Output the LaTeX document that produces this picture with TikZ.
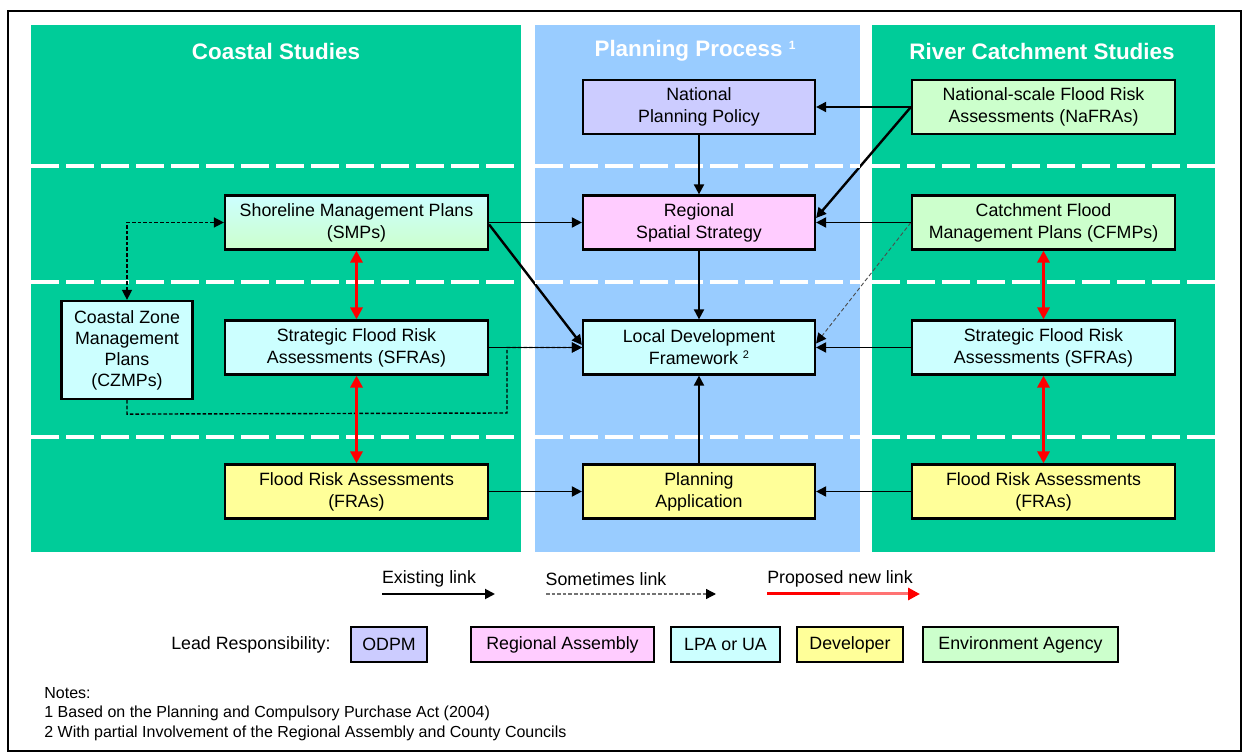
\documentclass[tikz,border=0pt]{standalone}
\usepackage{fontspec}
\setmainfont{Liberation Sans}
\usetikzlibrary{arrows.meta,calc}
\definecolor{panelgreen}{HTML}{00CC99}
\definecolor{panelblue}{HTML}{99CCFF}
\definecolor{odpmc}{HTML}{CCCCFF}
\definecolor{rac}{HTML}{FFCCFF}
\definecolor{lpac}{HTML}{CCFFFF}
\definecolor{devc}{HTML}{FFFF99}
\definecolor{eac}{HTML}{CCFFCC}
\begin{document}
\begin{tikzpicture}[x=0.5pt,y=-0.5pt,
  box/.style={draw=black, line width=1.1pt, inner sep=0pt, align=center,
    font=\fontsize{8.9}{11}\selectfont},
  sidebox/.style={box, minimum width=131.5pt, minimum height=27pt},
  midbox/.style={box, minimum width=116pt, minimum height=27pt},
  keybox/.style={box, minimum height=17.5pt},
  paneltitle/.style={text=white, font=\fontsize{11.2}{13}\selectfont\bfseries},
  rowsep/.style={white, line width=2pt, dash pattern=on 14pt off 3.5pt},
  link/.style={line width=0.95pt, -{Triangle[length=5pt,width=5pt]}},
  difflink/.style={line width=1.2pt, -{Triangle[length=5pt,width=5pt]}},
  maybelink/.style={line width=0.7pt, dash pattern=on 1.8pt off 1pt},
  faintlink/.style={line width=0.45pt, black!70, dash pattern=on 2pt off 1.2pt,
    -{Triangle[length=5pt,width=5pt,color=black]}},
  newlink/.style={red, line width=1.6pt, {Triangle[length=6pt,width=6pt]}-{Triangle[length=6pt,width=6pt]}},
  txt/.style={inner sep=0pt, font=\fontsize{8.9}{11}\selectfont},
]
\useasboundingbox (0,0) rectangle (1244,753);
\fill[white] (0,0) rectangle (1244,753);
\draw[line width=1pt] (8,11) rectangle (1241,751);

% column panels
\fill[panelgreen] (31,25) rectangle (521,552);
\fill[panelblue] (535,25) rectangle (860,552);
\fill[panelgreen] (872,25) rectangle (1215,552);

\node[paneltitle] (tcoast) at (276,51) {Coastal Studies};
\node[paneltitle] (tplan) at (695,51) {Planning Process \raisebox{3.5pt}{\fontsize{6}{7}\selectfont 1}};
\node[paneltitle] (triver) at (1042,51) {River Catchment Studies};

% boxes
\node[midbox, fill=odpmc] (npp) at (699,107) {National\\Planning Policy};
\node[sidebox, fill=eac] (nafra) at (1043.5,107) {National-scale Flood Risk\\Assessments (NaFRAs)};

\node[sidebox, top color=lpac, bottom color=eac, draw=black] (smp) at (356.5,222.5) {Shoreline Management Plans\\(SMPs)};
\node[midbox, fill=rac] (rss) at (699,222.5) {Regional\\Spatial Strategy};
\node[sidebox, fill=eac] (cfmp) at (1043.5,222.5) {Catchment Flood\\Management Plans (CFMPs)};

\node[box, fill=lpac, minimum width=65.5pt, minimum height=49pt,
  font=\fontsize{8.9}{10.5}\selectfont] (czmp) at (127,350) {Coastal Zone\\Management\\Plans\\(CZMPs)};
\node[sidebox, fill=lpac] (sfral) at (356.5,347.5) {Strategic Flood Risk\\Assessments (SFRAs)};
\node[midbox, fill=lpac] (ldf) at (699,347.5) {Local Development\\Framework \raisebox{3pt}{\fontsize{5.5}{6}\selectfont 2}};
\node[sidebox, fill=lpac] (sfrar) at (1043.5,347.5) {Strategic Flood Risk\\Assessments (SFRAs)};

\node[sidebox, fill=devc] (fral) at (356.5,491.5) {Flood Risk Assessments\\(FRAs)};
\node[midbox, fill=devc] (pa) at (699,491.5) {Planning\\Application};
\node[sidebox, fill=devc] (frar) at (1043.5,491.5) {Flood Risk Assessments\\(FRAs)};

% diagonal links (crossed by the row separators)
\draw[difflink] (nafra.west) -- ([yshift=2.25pt]rss.east);
\draw[difflink] ([yshift=-1pt]smp.east) -- ([yshift=1.25pt]ldf.west);
\draw[faintlink] (cfmp.west) -- ([yshift=2pt]ldf.east);

% row separators
\foreach \yy in {166,282,437} {
  \draw[rowsep] (31,\yy) -- (521,\yy);
  \draw[rowsep] (535,\yy) -- (860,\yy);
  \draw[rowsep] (872,\yy) -- (1215,\yy);
}

% existing links
\draw[link] (nafra.west) -- (npp.east);
\draw[link] (npp.south) -- (rss.north);
\draw[link] (smp.east) -- (rss.west);
\draw[link] (cfmp.west) -- (rss.east);
\draw[link] (rss.south) -- (ldf.north);
\draw[link] (sfral.east) -- (ldf.west);
\draw[link] (sfrar.west) -- (ldf.east);
\draw[link] (pa.north) -- (ldf.south);
\draw[link] (fral.east) -- (pa.west);
\draw[link] (frar.west) -- (pa.east);

% sometimes links
\coordinate (czup) at (czmp.north |- smp.west);
\draw[maybelink, {Triangle[length=5pt,width=5pt]}-{Triangle[length=5pt,width=5pt]}]
  (czmp.north) -- (czup) -- (smp.west);
\coordinate (czlow) at ([yshift=-7pt]czmp.south);
\coordinate (czturn) at (507,413);
\draw[maybelink, -{Triangle[length=5pt,width=5pt]}]
  (czmp.south) -- (czlow) -- (czturn) -- (czturn |- ldf.west) -- (ldf.west);

% proposed new links
\draw[newlink] (smp.south) -- (sfral.north);
\draw[newlink] (sfral.south) -- (fral.north);
\draw[newlink] (cfmp.south) -- (sfrar.north);
\draw[newlink] (sfrar.south) -- (frar.north);

% key to link types
\node[txt] (kexist) at (429,579) {Existing link};
\node[txt] (ksome) at (606,579) {Sometimes link};
\node[txt] (knew) at (840,579) {Proposed new link};
\coordinate (ea) at (382,594); \coordinate (eb) at (495,594);
\coordinate (sa) at (546,594); \coordinate (sb) at (716,594);
\coordinate (na) at (767,594); \coordinate (nm) at (840,594); \coordinate (nb) at (920,594);
\draw[link] (ea) -- (eb);
\draw[line width=0.7pt, black!55, dash pattern=on 1.8pt off 1pt,
  -{Triangle[length=5pt,width=5pt,color=black]}] (sa) -- (sb);
\draw[red, line width=1.5pt] (na) -- (nm);
\draw[red!55, line width=1.5pt, -{Triangle[length=6pt,width=6pt,color=red]}] (nm) -- (nb);

% key to lead responsibility
\node[txt, anchor=east] (klead) at (331,645) {Lead Responsibility:};
\node[keybox, fill=odpmc, minimum width=38pt] (kodpm) at (389,644.5) {ODPM};
\node[keybox, fill=rac, minimum width=91.5pt] (kra) at (562.5,644.5) {Regional Assembly};
\node[keybox, fill=lpac, minimum width=54.5pt] (klpa) at (725.5,644.5) {LPA or UA};
\node[keybox, fill=devc, minimum width=53pt] (kdev) at (850,644.5) {Developer};
\node[keybox, fill=eac, minimum width=97.5pt] (kea) at (1020.5,644.5) {Environment Agency};

% notes
\node[txt, anchor=north west, align=left, font=\fontsize{8}{9.75}\selectfont] (notes) at (44,687)
  {Notes:\\1 Based on the Planning and Compulsory Purchase Act (2004)\\2 With partial Involvement of the Regional Assembly and County Councils};
\end{tikzpicture}
\end{document}
